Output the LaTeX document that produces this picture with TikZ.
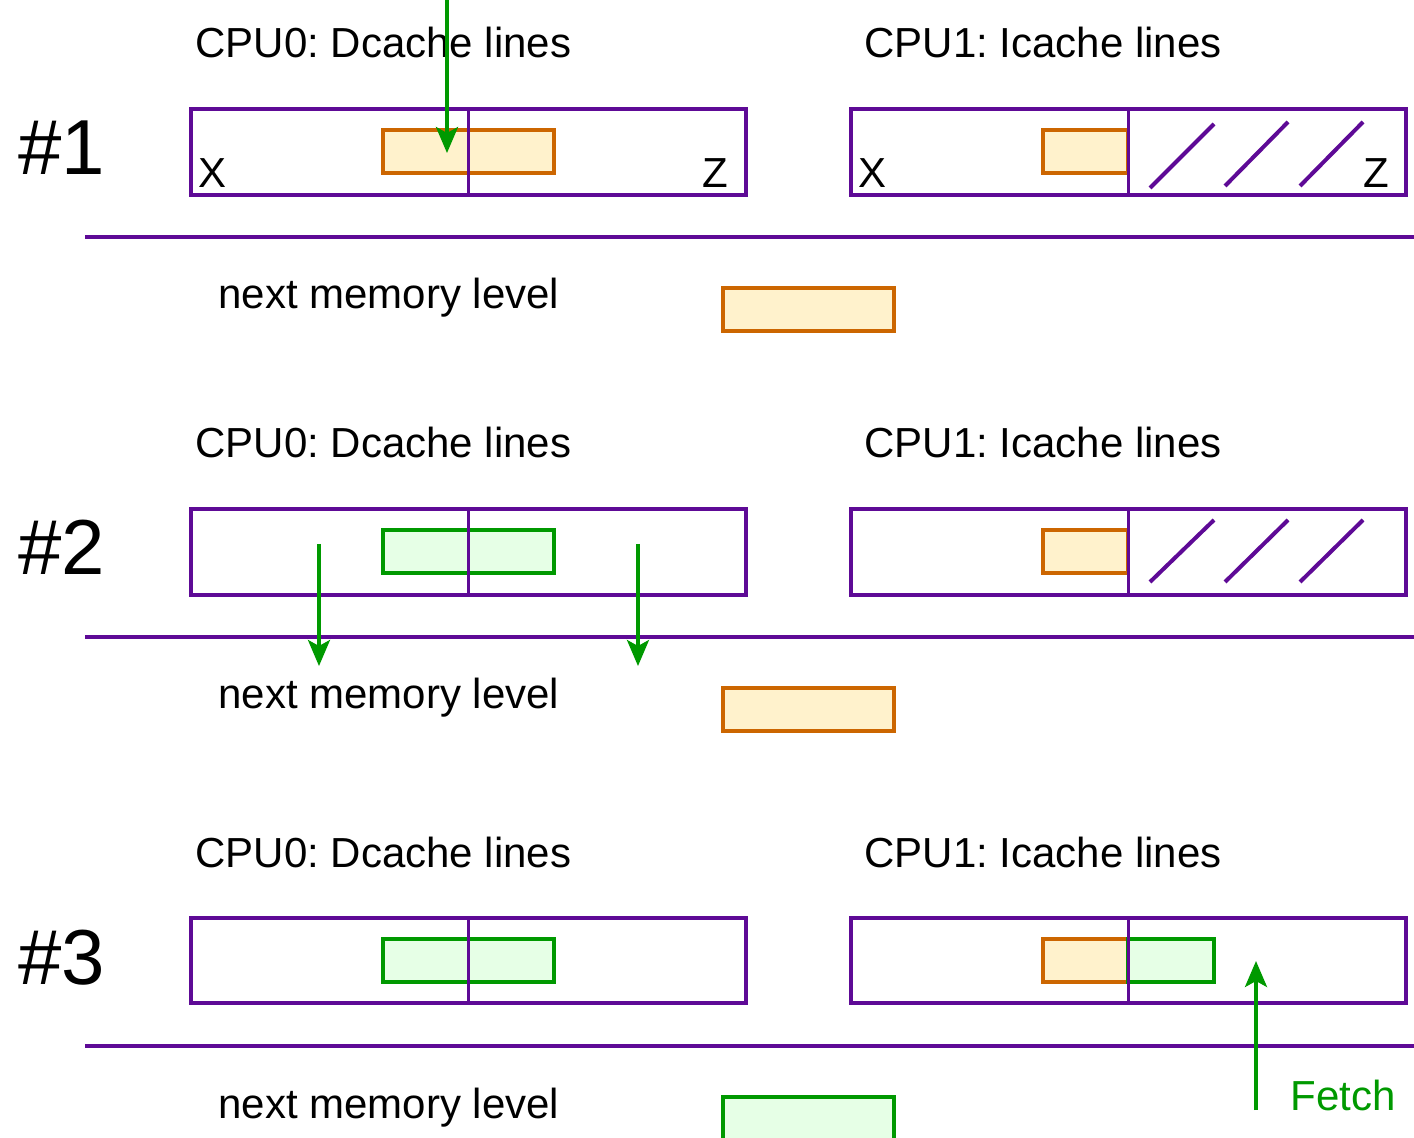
\documentclass[tikz,border=0pt]{standalone}
\usepackage{fontspec}
\setmainfont{Liberation Sans}
\usetikzlibrary{arrows.meta}
\definecolor{cpurple}{HTML}{5E0A96}
\definecolor{corange}{HTML}{CC6600}
\definecolor{forange}{HTML}{FFF2CC}
\definecolor{cgreen}{HTML}{009900}
\definecolor{fgreen}{HTML}{E6FFE6}
\tikzset{
  cache/.style={draw=cpurple, line width=2pt},
  divline/.style={draw=cpurple, line width=1.5pt},
  level/.style={draw=cpurple, line width=2pt},
  hatch/.style={draw=cpurple, line width=2pt},
  oline/.style={draw=corange, fill=forange, line width=2pt},
  gline/.style={draw=cgreen, fill=fgreen, line width=2pt},
  garrow/.style={draw=cgreen, line width=1.75pt, -{Stealth[length=13pt, width=11pt, inset=3pt]}},
  lbl/.style={font=\fontsize{21}{25}\selectfont, anchor=base west, inner sep=0pt},
  big/.style={font=\fontsize{39}{45}\selectfont, anchor=base west, inner sep=0pt},
}
\begin{document}
\frenchspacing
\begin{tikzpicture}[x=0.5pt, y=-0.5pt]
\useasboundingbox (0,0) rectangle (1414,1138);
% ---------- panel 1 ----------
\node[lbl] (t1a) at (195,58) {CPU0: Dcache lines};
\node[lbl] (t1b) at (864,58) {CPU1: Icache lines};
\node[big] (n1) at (18,175) {\#1};
\draw[oline] (383,130) rectangle (554,173);
\draw[cache] (191,109) rectangle (746,195);
\draw[divline] (468,109) -- (468,195);
\node[lbl] (x1) at (198,188) {X};
\node[lbl] (z1) at (702,188) {Z};
\draw[oline] (1043,130) rectangle (1128,173);
\draw[cache] (851,109) rectangle (1406,195);
\draw[divline] (1128,109) -- (1128,195);
\draw[hatch] (1150,188) -- (1214,124);
\draw[hatch] (1225,186) -- (1288,122);
\draw[hatch] (1300,186) -- (1363,122);
\node[lbl] (x1b) at (858,188) {X};
\node[lbl] (z1b) at (1363,188) {Z};
\draw[level] (85,237) -- (1414,237);
\node[lbl] (m1) at (218,309) {next memory level};
\draw[oline] (723,288) rectangle (894,331);
\coordinate (a1s) at (447,0);
\coordinate (a1e) at (447,153);
\draw[garrow] (a1s) -- (a1e);
% ---------- panel 2 ----------
\node[lbl] (t2a) at (195,458) {CPU0: Dcache lines};
\node[lbl] (t2b) at (864,458) {CPU1: Icache lines};
\node[big] (n2) at (18,575) {\#2};
\draw[gline] (383,530) rectangle (554,573);
\draw[cache] (191,509) rectangle (746,595);
\draw[divline] (468,509) -- (468,595);
\draw[oline] (1043,530) rectangle (1128,573);
\draw[cache] (851,509) rectangle (1406,595);
\draw[divline] (1128,509) -- (1128,595);
\draw[hatch] (1150,582) -- (1214,520);
\draw[hatch] (1225,582) -- (1288,520);
\draw[hatch] (1300,582) -- (1363,520);
\draw[level] (85,637) -- (1414,637);
\node[lbl] (m2) at (218,709) {next memory level};
\draw[oline] (723,688) rectangle (894,731);
\coordinate (a2s) at (319,544);
\coordinate (a2e) at (319,666);
\coordinate (a3s) at (638,544);
\coordinate (a3e) at (638,666);
\draw[garrow] (a2s) -- (a2e);
\draw[garrow] (a3s) -- (a3e);
% ---------- panel 3 ----------
\node[lbl] (t3a) at (195,867) {CPU0: Dcache lines};
\node[lbl] (t3b) at (864,867) {CPU1: Icache lines};
\node[big] (n3) at (18,984) {\#3};
\draw[gline] (383,939) rectangle (554,982);
\draw[cache] (191,918) rectangle (746,1003);
\draw[divline] (468,918) -- (468,1003);
\draw[oline] (1043,939) rectangle (1128,982);
\draw[gline] (1128,939) rectangle (1214,982);
\draw[cache] (851,918) rectangle (1406,1003);
\draw[divline] (1128,918) -- (1128,1003);
\draw[level] (85,1046) -- (1414,1046);
\node[lbl] (m3) at (218,1118) {next memory level};
\draw[gline] (723,1097) rectangle (894,1145);
\coordinate (f1s) at (1256,1110);
\coordinate (f1e) at (1256,961);
\draw[garrow] (f1s) -- (f1e);
\node[lbl, text=cgreen] (fetch) at (1290,1110) {Fetch};
\end{tikzpicture}
\end{document}
